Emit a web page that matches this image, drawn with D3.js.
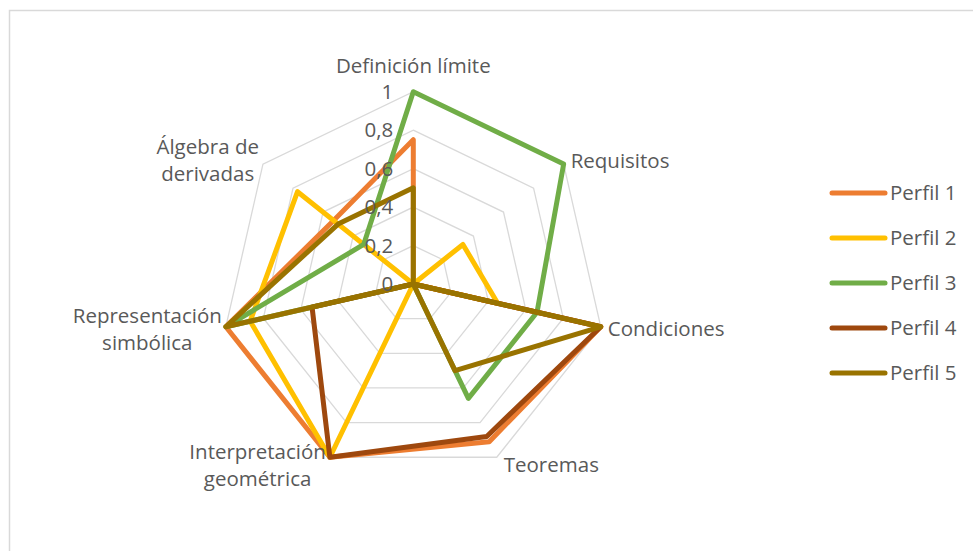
<!DOCTYPE html>
<html>
<head>
<meta charset="utf-8">
<script src="https://cdn.jsdelivr.net/npm/d3@7"></script>
<style>
	body { margin: 0; background: #fff; }
	text { font-family: "Open Sans", Calibri, sans-serif; fill: #595959; }
</style>
</head>
<body>
<div id="chart"></div>
<script>
// axes, clockwise from the top
var categories = [
	['Definición límite'],
	['Requisitos'],
	['Condiciones'],
	['Teoremas'],
	['Interpretación', 'geométrica'],
	['Representación', 'simbólica'],
	['Álgebra de', 'derivadas']
];
var seriesNames = ['Perfil 1', 'Perfil 2', 'Perfil 3', 'Perfil 4', 'Perfil 5'];
var perfil1 = [0.75, 0, 1, 0.91, 1, 1, 0.53];
var perfil2 = [0, 0.33, 0.45, 0, 1, 0.87, 0.77];
var perfil3 = [1, 1, 0.66, 0.66, 0, 1, 0.33];
var perfil4 = [0, 0, 1, 0.88, 1, 0.54, 0];
var perfil5 = [0.5, 0, 1, 0.5, 0, 1, 0.5];
var tickValues = [0, 0.2, 0.4, 0.6, 0.8, 1];
var tickLabels = ['0', '0,2', '0,4', '0,6', '0,8', '1'];

var colors = ['#ED7D31', '#FFC000', '#70AD47', '#9E480E', '#997300'];
var allSeries = [perfil1, perfil2, perfil3, perfil4, perfil5];

var width = 973;
var height = 551;
var cx = 413.3;
var cy = 284;
var radius = 192.3;
var fontSize = '20.5px';

var svg = d3.select('#chart')
	.append('svg')
	.attr('width', width)
	.attr('height', height);

// chart area frame
svg.append('rect')
	.attr('x', 9.5)
	.attr('y', 10.5)
	.attr('width', 1000)
	.attr('height', 600)
	.attr('fill', 'none')
	.attr('stroke', '#D9D9D9')
	.attr('stroke-width', 1.5);

var g = svg.append('g')
	.attr('transform', 'translate(' + cx + ',' + cy + ')');

var r = d3.scaleLinear().domain([0, 1]).range([0, radius]);
var angle = d3.scalePoint()
	.domain(d3.range(categories.length + 1))
	.range([0, 2 * Math.PI]);

function pt(i, v){
	var a = angle(i);
	return [r(v) * Math.sin(a), -r(v) * Math.cos(a)];
}

var line = d3.line()
	.x(function(d){ return d[0]; })
	.y(function(d){ return d[1]; })
	.curve(d3.curveLinearClosed);

// rings
g.selectAll('.ring')
	.data(tickValues.filter(function(d){ return d > 0; }))
	.enter()
	.append('path')
	.attr('class', 'ring')
	.attr('d', function(v){
		return line(categories.map(function(c, i){ return pt(i, v); }));
	})
	.attr('fill', 'none')
	.attr('stroke', '#D9D9D9')
	.attr('stroke-width', 1.3);

// series
g.selectAll('.serie')
	.data(allSeries)
	.enter()
	.append('path')
	.attr('class', 'serie')
	.attr('d', function(s){
		return line(s.map(function(v, i){ return pt(i, v); }));
	})
	.attr('fill', 'none')
	.attr('stroke', function(d, i){ return colors[i]; })
	.attr('stroke-width', 5)
	.attr('stroke-linejoin', 'round');

// value axis labels
g.selectAll('.tick')
	.data(tickValues)
	.enter()
	.append('text')
	.attr('class', 'tick')
	.attr('x', -20)
	.attr('y', function(v){ return -r(v); })
	.attr('dy', '0.35em')
	.attr('text-anchor', 'end')
	.style('font-size', fontSize)
	.text(function(d, i){ return tickLabels[i]; });

// category labels
var lineH = 27;
categories.forEach(function(lines, i){
	var a = angle(i);
	var sx = Math.sin(a), sy = -Math.cos(a);
	var p = pt(i, 1);
	var t = g.append('text').style('font-size', fontSize);
	lines.forEach(function(s, k){
		t.append('tspan').attr('x', 0).attr('dy', k === 0 ? 0 : lineH).text(s);
	});
	var maxW = 0;
	t.selectAll('tspan').each(function(){
		maxW = Math.max(maxW, this.getComputedTextLength());
	});
	var blockH = lineH * (lines.length - 1);
	var x, y;
	if (Math.abs(sx) < 0.01) {
		x = p[0] - maxW / 2;
		y = p[1] - 27;
	} else if (sx > 0) {
		x = p[0] + 7;
		y = p[1] + 7 * sy - blockH / 2;
	} else {
		x = p[0] - maxW - 4;
		y = p[1] + 7.5 * sy - blockH / 2;
	}
	t.attr('transform', 'translate(' + x + ',' + y + ')')
		.attr('dominant-baseline', 'central');
	t.selectAll('tspan')
		.attr('x', function(){ return (maxW - this.getComputedTextLength()) / 2; });
});

// legend
var legend = svg.selectAll('.legend')
	.data(seriesNames)
	.enter()
	.append('g')
	.attr('class', 'legend')
	.attr('transform', function(d, i){
		return 'translate(832,' + (193 + i * 45) + ')';
	});

legend.append('line')
	.attr('x1', 0)
	.attr('x2', 53)
	.attr('stroke', function(d, i){ return colors[i]; })
	.attr('stroke-width', 5)
	.attr('stroke-linecap', 'round');

legend.append('text')
	.attr('x', 58)
	.attr('dy', '0.35em')
	.style('font-size', fontSize)
	.text(function(d){ return d; });
</script>
</body>
</html>
